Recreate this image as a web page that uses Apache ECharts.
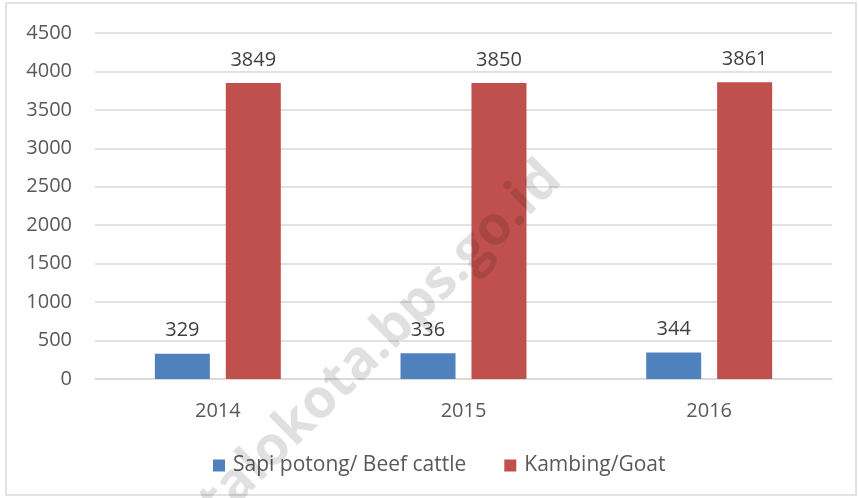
<!DOCTYPE html>
<html>
<head>
<meta charset="utf-8">
<script src="https://cdn.jsdelivr.net/npm/echarts@6/dist/echarts.min.js"></script>
<style>
  html, body { margin: 0; padding: 0; background: #fff; }
  #chart { width: 859px; height: 498px; }
</style>
</head>
<body>
<div id="chart"></div>
<script>
// data
var years = ['2014', '2015', '2016'];
var sapi = [329, 336, 344];
var kambing = [3849, 3850, 3861];
var yTicks = [0, 4500, 500]; // min, max, step

var font = '"Open Sans", sans-serif';
var txt = '#595959';

var myChart = echarts.init(document.getElementById('chart'));
myChart.setOption({
    animation: false,
    textStyle: { fontFamily: font },
    grid: { left: 95, right: 27, top: 33, bottom: 119 },
    legend: {
        top: 450,
        left: 208,
        itemWidth: 12,
        itemHeight: 12,
        itemGap: 38,
        icon: 'rect',
        textStyle: { color: txt, fontSize: 21, fontFamily: font, padding: [0, 0, 0, 3] }
    },
    xAxis: {
        type: 'category',
        data: years,
        axisLine: { lineStyle: { color: '#d9d9d9', width: 1.5 } },
        axisTick: { show: false },
        axisLabel: { color: txt, fontSize: 20, margin: 22, fontFamily: font }
    },
    yAxis: {
        type: 'value',
        min: yTicks[0],
        max: yTicks[1],
        interval: yTicks[2],
        axisLine: { show: false },
        axisTick: { show: false },
        splitLine: { lineStyle: { color: '#d9d9d9', width: 1.5 } },
        axisLabel: {
            color: txt, fontSize: 20, margin: 23, fontFamily: font,
            formatter: function (v) { return String(v); }
        }
    },
    series: [
        {
            name: 'Sapi potong/ Beef cattle',
            type: 'bar',
            data: sapi,
            barWidth: 55,
            barGap: '29%',
            itemStyle: { color: '#4f81bd' },
            label: { show: true, position: 'top', distance: 13, color: '#404040', fontSize: 20, fontFamily: font }
        },
        {
            name: 'Kambing/Goat',
            type: 'bar',
            data: kambing,
            barWidth: 55,
            itemStyle: { color: '#c0504d' },
            label: { show: true, position: 'top', distance: 13, color: '#404040', fontSize: 20, fontFamily: font }
        }
    ],
    graphic: [
        {
            type: 'rect',
            shape: { x: 6, y: 3, width: 850, height: 492 },
            style: { fill: 'none', stroke: '#d9d9d9', lineWidth: 1.5 },
            z: -10
        },
        {
            type: 'text',
            x: 572,
            y: 190,
            rotation: 0.78,
            z: 100,
            style: {
                text: 'gorontalokota.bps.go.id',
                textAlign: 'right',
                textVerticalAlign: 'bottom',
                fill: 'rgba(0,0,0,0.12)',
                font: 'bold 54px "Open Sans", sans-serif'
            }
        }
    ]
});
</script>
</body>
</html>
